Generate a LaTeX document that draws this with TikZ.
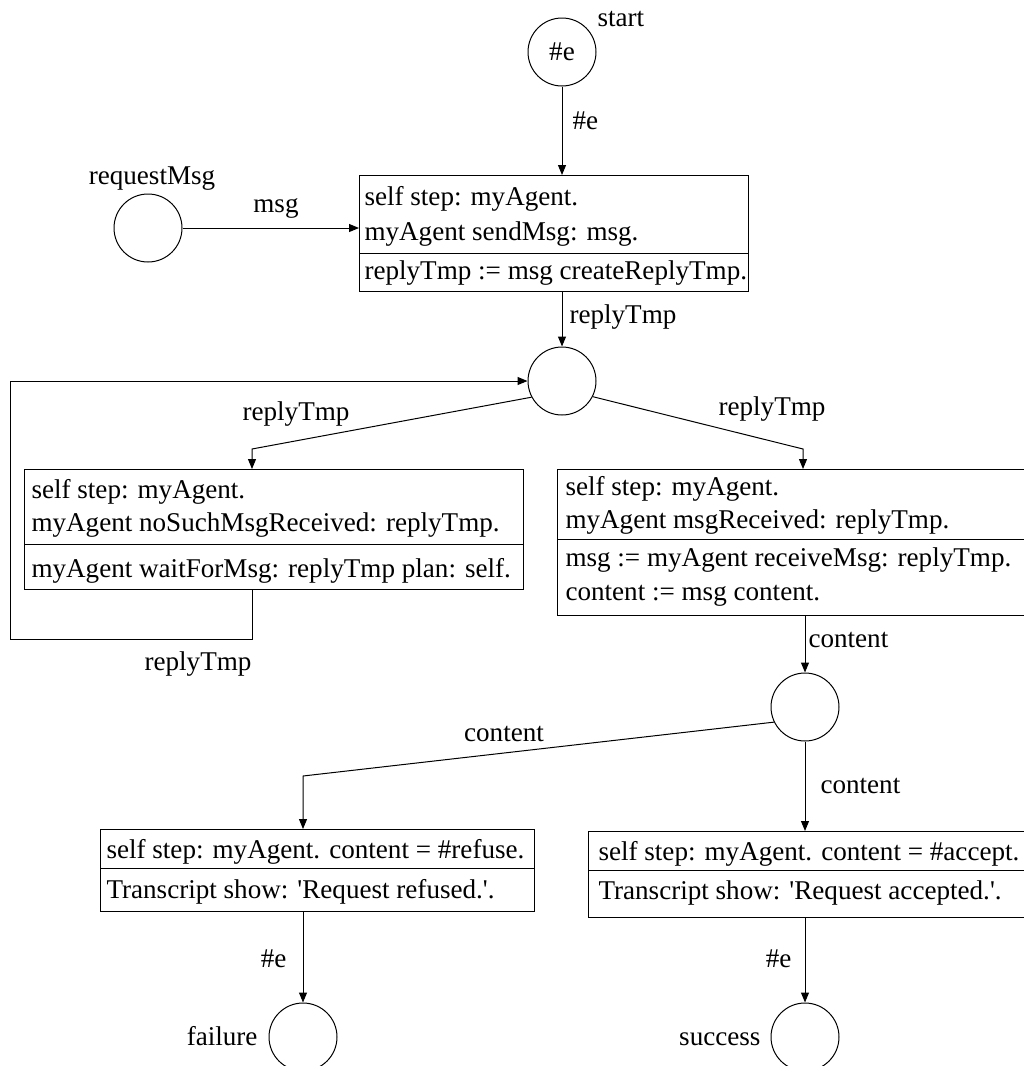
\documentclass[tikz,border=0pt]{standalone}
\usepackage{fontspec}
\setmainfont{Liberation Serif}[Ligatures=TeXOff]
\usetikzlibrary{arrows.meta}
\begin{document}
\begin{tikzpicture}[x=1pt,y=-1pt,line width=1pt,
  font=\fontsize{27.1}{32}\selectfont,
  place/.style={circle,draw,minimum size=68pt,inner sep=0pt},
  box/.style={draw,anchor=north west,inner sep=0pt},
  code/.style={anchor=base west,inner sep=0pt},
  lbl/.style={inner sep=0pt},
  arr/.style={-{Triangle[length=10pt,width=8pt]}},
]
\useasboundingbox (0,0) rectangle (1024,1066);
\clip (0,0) rectangle (1024,1066);

% places
\node[place] (start) at (562,52) {\#e};
\node[place] (req) at (148,228) {};
\node[place] (p1) at (562,381) {};
\node[place] (p2) at (805,707) {};
\node[place] (fail) at (303,1037) {};
\node[place] (succ) at (805,1037) {};

% transitions
\node[box,minimum width=389pt,minimum height=116pt] (t1) at (359,175) {};
\node[box,minimum width=499pt,minimum height=120pt] (t2) at (24,469) {};
\node[box,minimum width=475pt,minimum height=146pt] (t3) at (557,469) {};
\node[box,minimum width=434pt,minimum height=82pt] (t4) at (100,829) {};
\node[box,minimum width=440pt,minimum height=86pt] (t5) at (588,831) {};

% guard / action dividers
\draw (t1.west |- 0,253) -- (t1.east |- 0,253);
\draw (t2.west |- 0,544) -- (t2.east |- 0,544);
\draw (t3.west |- 0,539) -- (t3.east |- 0,539);
\draw (t4.west |- 0,868) -- (t4.east |- 0,868);
\draw (t5.west |- 0,870) -- (t5.east |- 0,870);

% transition code
\node[code] (t1a) at (364,205) {self step: myAgent.};
\node[code] (t1b) at (364,240) {myAgent sendMsg: msg.};
\node[code] (t1c) at (364,279) {replyTmp := msg createReplyTmp.};
\node[code] (t2a) at (31,498) {self step: myAgent.};
\node[code] (t2b) at (31,531) {myAgent noSuchMsgReceived: replyTmp.};
\node[code] (t2c) at (31,577) {myAgent waitForMsg: replyTmp plan: self.};
\node[code] (t3a) at (565,495) {self step: myAgent.};
\node[code] (t3b) at (565,528) {myAgent msgReceived: replyTmp.};
\node[code] (t3c) at (565,566) {msg := myAgent receiveMsg: replyTmp.};
\node[code] (t3d) at (565,600) {content := msg content.};
\node[code] (t4a) at (106,858) {self step: myAgent. content = \#refuse.};
\node[code] (t4b) at (106,898) {Transcript show: 'Request refused.'.};
\node[code] (t5a) at (598,860) {self step: myAgent. content = \#accept.};
\node[code] (t5b) at (598,899) {Transcript show: 'Request accepted.'.};

% place names
\node[lbl,anchor=base west] (nstart) at (597,26) {start};
\node[lbl,anchor=base] (nreq) at (152,184) {requestMsg};
\node[lbl,anchor=base east] (nfail) at (258,1045) {failure};
\node[lbl,anchor=base east] (nsucc) at (761,1045) {success};

% arcs
\draw[arr] (start.south) -- (start.south |- t1.north);
\draw[arr] (req.east) -- (req.east -| t1.west);
\draw[arr] (t1.south -| p1) -- (p1.north);
\coordinate (k1) at (252,449);
\coordinate (k2) at (803,449);
\draw[arr] (p1.208) -- (k1) -- (k1 |- t2.north);
\draw[arr] (p1.333) -- (k2) -- (k2 |- t3.north);
\coordinate (l1) at (252,639);
\coordinate (l2) at (10,639);
\draw[arr] (t2.south -| l1) -- (l1) -- (l2) |- (p1.west);
\draw[arr] (t3.south -| p2) -- (p2.north);
\coordinate (k3) at (303,776);
\draw[arr] (p2.206) -- (k3) -- (k3 |- t4.north);
\draw[arr] (p2.south) -- (p2.south |- t5.north);
\draw[arr] (t4.south -| fail) -- (fail.north);
\draw[arr] (t5.south -| succ) -- (succ.north);

% arc inscriptions
\node[lbl,anchor=base west] (e0) at (572,129) {\#e};
\node[lbl,anchor=base] (e1) at (276,212) {msg};
\node[lbl,anchor=base west] (e2) at (569,323) {replyTmp};
\node[lbl,anchor=base] (e3) at (296,420) {replyTmp};
\node[lbl,anchor=base] (e4) at (772,415) {replyTmp};
\node[lbl,anchor=base] (e5) at (198,670) {replyTmp};
\node[lbl,anchor=base west] (e6) at (808,647) {content};
\node[lbl,anchor=base] (e7) at (504,741) {content};
\node[lbl,anchor=base west] (e8) at (820,793) {content};
\node[lbl,anchor=base east] (e9) at (287,967) {\#e};
\node[lbl,anchor=base east] (e10) at (792,967) {\#e};
\end{tikzpicture}
\end{document}
